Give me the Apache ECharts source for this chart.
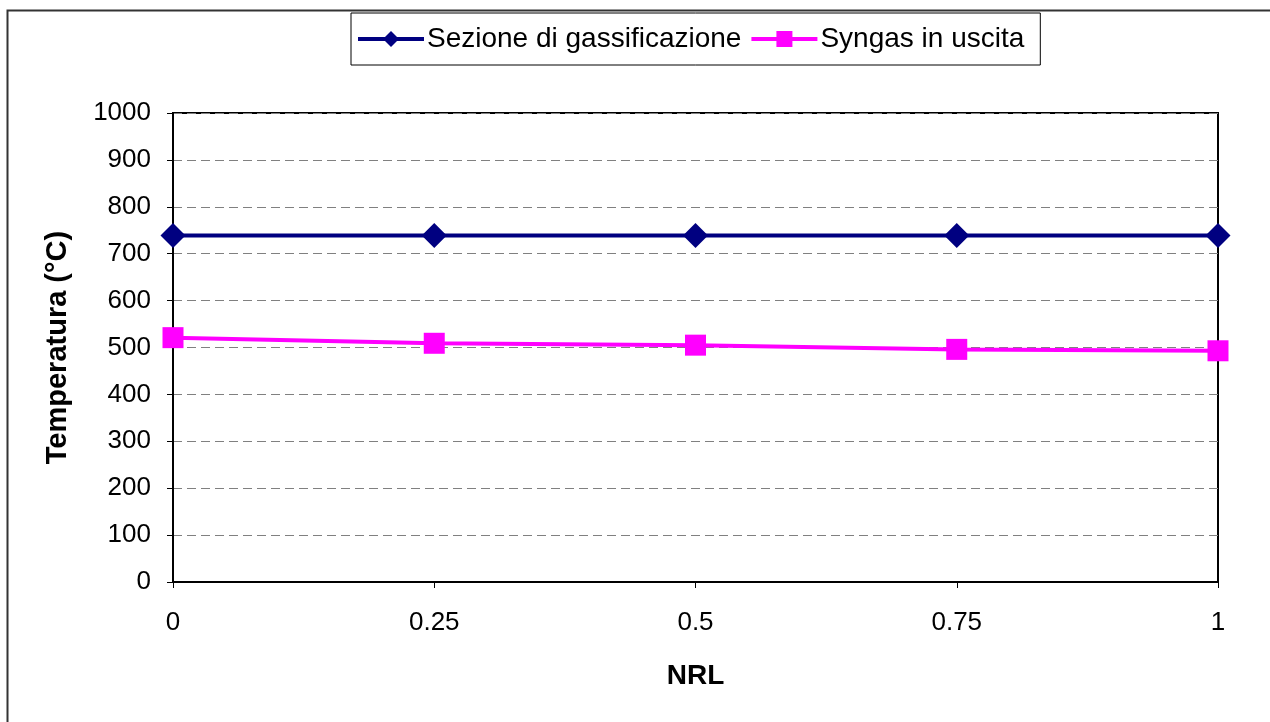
<!DOCTYPE html>
<html>
<head>
<meta charset="utf-8">
<script src="https://cdn.jsdelivr.net/npm/echarts@6/dist/echarts.min.js"></script>
<style>html,body{margin:0;padding:0;background:#fff}#c{width:1270px;height:722px}</style>
</head>
<body>
<div id="c"></div>
<script>
const nrl = [0, 0.25, 0.5, 0.75, 1];
const xTickLabels = ['0', '0.25', '0.5', '0.75', '1'];
const sezioneGassificazione = [739, 739, 739, 739, 739];
const syngasUscita = [521, 509, 505, 496, 493];
const seriesNames = ['Sezione di gassificazione', 'Syngas in uscita'];

const chart = echarts.init(document.getElementById('c'), null, {renderer: 'canvas'});
const font = 'Liberation Sans, Arial, sans-serif';
chart.setOption({
  animation: false,
  backgroundColor: '#fff',
  graphic: [{
    type: 'rect', left: 5, top: 8, z: -10,
    shape: {width: 1280, height: 730},
    style: {fill: 'none', stroke: '#333', lineWidth: 2}
  }],
  legend: {
    left: 351, top: 13,
    data: seriesNames,
    itemWidth: 66, itemHeight: 20, itemGap: 8,
    padding: [12, 16, 12, 5],
    borderColor: '#000', borderWidth: 1,
    lineStyle: {width: 4},
    textStyle: {fontFamily: font, fontSize: 28, color: '#000', padding: [0, 0, 0, -2]}
  },
  grid: {left: 173, right: 52, top: 113, bottom: 140, show: true, borderColor: '#000', borderWidth: 2, backgroundColor: 'transparent'},
  xAxis: {
    type: 'value', min: 0, max: 1, interval: 0.25,
    name: 'NRL', nameLocation: 'middle', nameGap: 80,
    nameTextStyle: {fontFamily: font, fontSize: 28, fontWeight: 'bold', color: '#000'},
    axisLine: {show: true, lineStyle: {color: '#000', width: 2}},
    axisTick: {show: true, length: 6, lineStyle: {color: '#000', width: 1}},
    axisLabel: {fontFamily: font, fontSize: 26, color: '#000', margin: 28,
      formatter: function (v) { const i = nrl.indexOf(v); return i >= 0 ? xTickLabels[i] : ''; }},
    splitLine: {show: false}
  },
  yAxis: {
    type: 'value', min: 0, max: 1000, interval: 100,
    name: 'Temperatura (°C)', nameLocation: 'middle', nameGap: 101,
    nameTextStyle: {fontFamily: font, fontSize: 29, fontWeight: 'bold', color: '#000'},
    axisLine: {show: true, lineStyle: {color: '#000', width: 2}},
    axisTick: {show: true, length: 6, lineStyle: {color: '#000', width: 1}},
    axisLabel: {fontFamily: font, fontSize: 26, color: '#000', margin: 22,
      formatter: function (v) { return String(v); }},
    splitLine: {show: true, lineStyle: {color: '#808080', type: [9, 5], width: 1}}
  },
  series: [
    {
      name: seriesNames[0], type: 'line',
      data: nrl.map((x, i) => [x, sezioneGassificazione[i]]),
      symbol: 'diamond', symbolSize: 25,
      lineStyle: {color: '#000080', width: 4},
      itemStyle: {color: '#000080'}, z: 3
    },
    {
      name: seriesNames[1], type: 'line',
      data: nrl.map((x, i) => [x, syngasUscita[i]]),
      symbol: 'rect', symbolSize: 21,
      lineStyle: {color: '#FF00FF', width: 4},
      itemStyle: {color: '#FF00FF'}, z: 4
    }
  ]
});
</script>
</body>
</html>
